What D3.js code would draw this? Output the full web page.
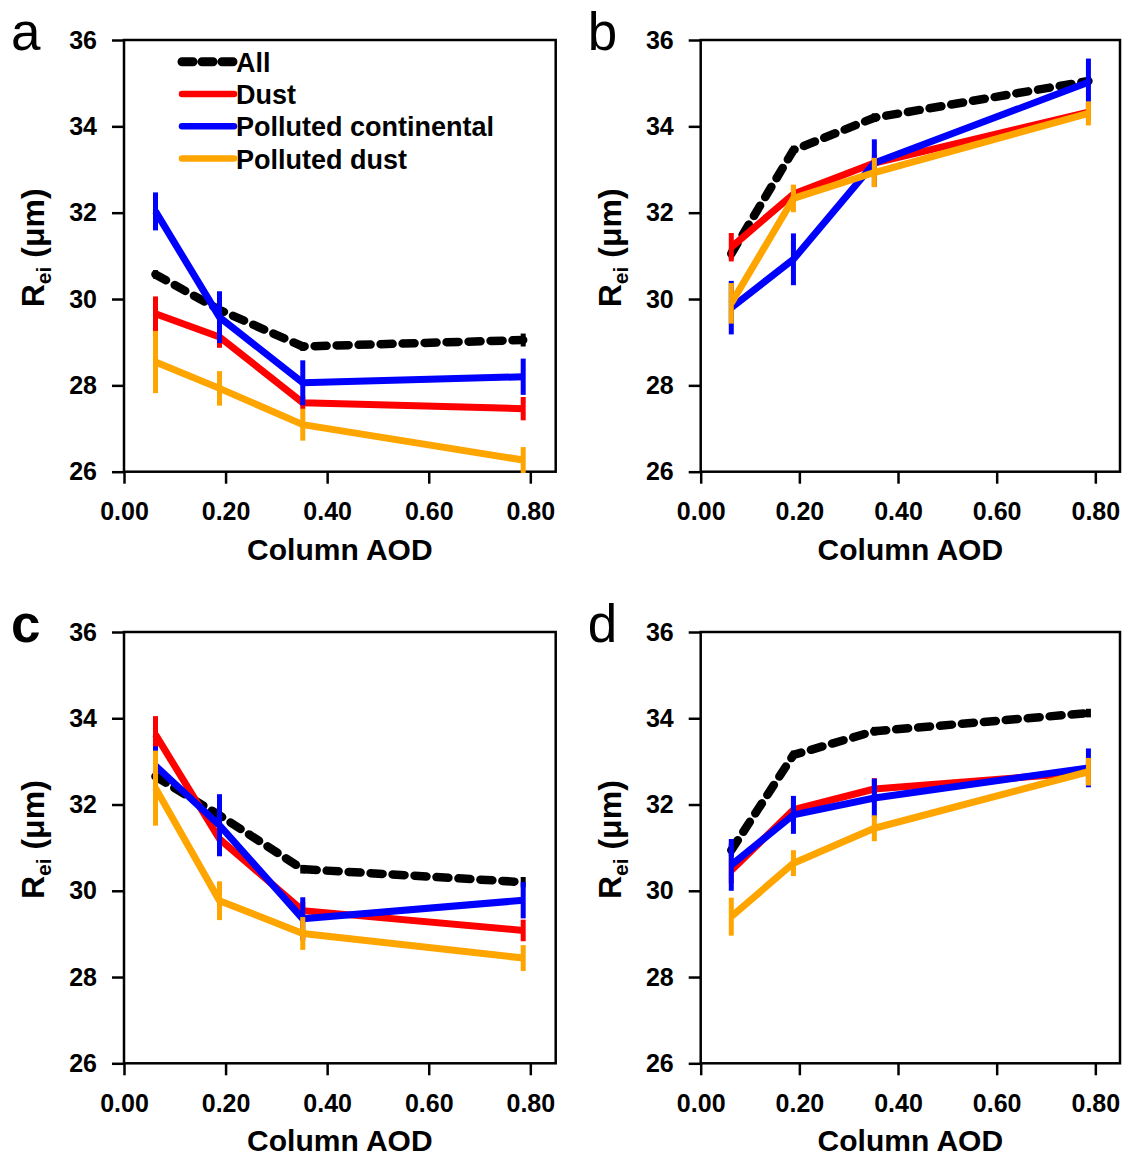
<!DOCTYPE html>
<html>
<head>
<meta charset="utf-8">
<script src="https://cdn.jsdelivr.net/npm/d3@7"></script>
<style>
  body { margin: 0; background: #fff; }
  svg text { font-family: "Liberation Sans", Arial, Helvetica, sans-serif; }
</style>
</head>
<body>
<div id="chart"></div>
<script>
// x positions (column AOD bins) shared by every panel
var aod = [0.062, 0.188, 0.352, 0.786];
var seriesNames = ["All", "Dust", "Polluted continental", "Polluted dust"];
var panelLabels = ["a", "b", "c", "d"];
var xTicks = [0, 0.2, 0.4, 0.6, 0.8];
var yTicks = [26, 28, 30, 32, 34, 36];

// mean Rei per panel (rows a, b, c, d)
var meanAll  = [[30.57, 29.75, 28.90, 29.05], [31.05, 33.45, 34.20, 35.05], [32.65, 31.75, 30.50, 30.20], [30.94, 33.15, 33.70, 34.12]];
var meanDust = [[29.66, 29.12, 27.60, 27.46], [31.20, 32.43, 33.15, 34.33], [33.62, 31.20, 29.54, 29.08], [30.47, 31.88, 32.36, 32.75]];
var meanPC   = [[32.03, 29.58, 28.06, 28.20], [29.80, 30.92, 33.15, 35.02], [32.90, 31.52, 29.35, 29.78], [30.60, 31.76, 32.15, 32.85]];
var meanPD   = [[28.54, 27.93, 27.09, 26.27], [29.90, 32.33, 32.93, 34.30], [32.38, 29.77, 29.01, 28.44], [29.40, 30.64, 31.45, 32.76]];

// error bar half-lengths
var errAll  = [[0.10, 0.10, 0.10, 0.15], [0.12, 0.10, 0.10, 0.10], [0.10, 0.10, 0.10, 0.12], [0.15, 0.10, 0.10, 0.10]];
var errDust = [[0.40, 0.25, 0.15, 0.27], [0.33, 0.20, 0.20, 0.20], [0.43, 0.25, 0.20, 0.25], [0.30, 0.25, 0.25, 0.25]];
var errPC   = [[0.44, 0.60, 0.52, 0.42], [0.62, 0.60, 0.55, 0.55], [0.45, 0.72, 0.50, 0.42], [0.60, 0.44, 0.45, 0.45]];
var errPD   = [[0.72, 0.40, 0.37, 0.30], [0.47, 0.32, 0.34, 0.28], [0.87, 0.45, 0.38, 0.30], [0.44, 0.30, 0.30, 0.32]];

var w = 1137, h = 1157;
var colors = ["#000000", "#ff0000", "#0000ff", "#ffa500"];
var means = [meanAll, meanDust, meanPC, meanPD];
var errs = [errAll, errDust, errPC, errPD];

// plot frames: left, right, top, bottom
var frames = [
  {l: 124, r: 555.7, t: 40, b: 471.7},
  {l: 700.7, r: 1120, t: 40, b: 471.7},
  {l: 124, r: 555.7, t: 632, b: 1063.3},
  {l: 700.7, r: 1120, t: 632, b: 1063.3}
];

var svg = d3.select("#chart").append("svg")
  .attr("width", w)
  .attr("height", h);

frames.forEach(function(f, p) {
  var x = d3.scaleLinear().domain([0, 0.85]).range([f.l, f.r]);
  var y = d3.scaleLinear().domain([26, 36]).range([f.b, f.t]);
  var g = svg.append("g");

  // frame
  g.append("rect")
    .attr("x", f.l).attr("y", f.t)
    .attr("width", f.r - f.l).attr("height", f.b - f.t)
    .attr("fill", "none").attr("stroke", "#000").attr("stroke-width", 2.5);

  // axes
  var xAxis = g.append("g")
    .attr("transform", "translate(0," + f.b + ")")
    .call(d3.axisBottom(x).tickValues(xTicks).tickFormat(d3.format(".2f")).tickSize(12).tickSizeOuter(0).tickPadding(19));
  var yAxis = g.append("g")
    .attr("transform", "translate(" + f.l + ",0)")
    .call(d3.axisLeft(y).tickValues(yTicks).tickSize(12).tickSizeOuter(0).tickPadding(15));
  [xAxis, yAxis].forEach(function(a) {
    a.select(".domain").remove();
    a.selectAll("line").attr("stroke-width", 2.5);
    a.selectAll("text")
      .style("font-size", "25px")
      .style("font-weight", "bold")
      .attr("fill", "#000");
  });

  // series
  means.forEach(function(m, s) {
    var pts = aod.map(function(v, i) { return [v, m[p][i], errs[s][p][i]]; });
    var line = d3.line().x(function(d) { return x(d[0]); }).y(function(d) { return y(d[1]); });
    var sg = g.append("g");
    sg.selectAll("line")
      .data(pts)
      .enter()
      .append("line")
      .attr("x1", function(d) { return x(d[0]); })
      .attr("x2", function(d) { return x(d[0]); })
      .attr("y1", function(d) { return y(d[1] - d[2]); })
      .attr("y2", function(d) { return y(d[1] + d[2]); })
      .attr("stroke", colors[s])
      .attr("stroke-width", 5);
    sg.append("path")
      .datum(pts)
      .attr("d", line)
      .attr("fill", "none")
      .attr("stroke", colors[s])
      .attr("stroke-width", s === 0 ? 8.5 : 7)
      .attr("stroke-linejoin", "round")
      .attr("stroke-linecap", s === 0 ? "round" : "butt")
      .attr("stroke-dasharray", s === 0 ? "12,10" : null);
  });

  // axis titles
  g.append("text")
    .attr("x", (f.l + f.r) / 2)
    .attr("y", f.b + 88)
    .attr("text-anchor", "middle")
    .style("font-size", "30px")
    .style("font-weight", "bold")
    .text("Column AOD");

  var yl = g.append("text")
    .attr("transform", "translate(" + (f.l - 80) + "," + ((f.t + f.b) / 2 - 8) + ") rotate(-90)")
    .attr("text-anchor", "middle")
    .style("font-size", "32px")
    .style("font-weight", "bold");
  yl.append("tspan").text("R");
  yl.append("tspan").attr("dy", 7).style("font-size", "21px").text("ei");
  yl.append("tspan").attr("dy", -7).text(" (\u03bcm)");

  // panel letter
  g.append("text")
    .attr("x", f.l - 113)
    .attr("y", f.t + 10)
    .style("font-size", "53px")
    .style("font-weight", p === 2 ? "bold" : "normal")
    .text(panelLabels[p]);
});

// legend in panel a
var lg = svg.append("g");
seriesNames.forEach(function(name, i) {
  var cy = 61.7 + i * 32.3;
  lg.append("line")
    .attr("x1", 182).attr("x2", 234)
    .attr("y1", cy).attr("y2", cy)
    .attr("stroke", colors[i])
    .attr("stroke-width", i === 0 ? 9 : 6.5)
    .attr("stroke-linecap", "round")
    .attr("stroke-dasharray", i === 0 ? "11,9" : null);
  lg.append("text")
    .attr("x", 236)
    .attr("y", cy + 10)
    .style("font-size", "27px")
    .style("font-weight", "bold")
    .text(name);
});
</script>
</body>
</html>
